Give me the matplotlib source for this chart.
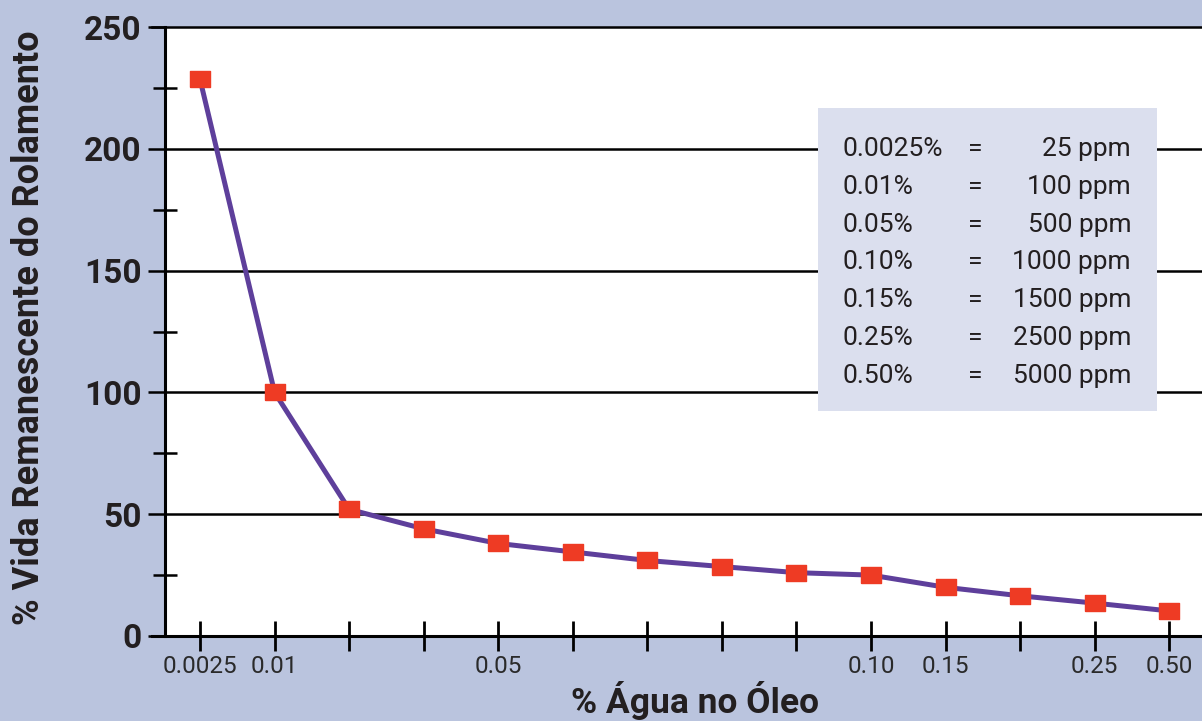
import matplotlib
matplotlib.use("Agg")
import matplotlib.pyplot as plt
from matplotlib.patches import Rectangle

x_labels = ["0.0025", "0.01", "", "", "0.05", "", "", "", "", "0.10", "0.15", "", "0.25", "0.50"]
values = [228.5, 100, 52, 44, 38, 34.5, 31, 28.5, 26, 25, 20, 16.5, 13.5, 10.3]
leg_pct = ["0.0025%", "0.01%", "0.05%", "0.10%", "0.15%", "0.25%", "0.50%"]
leg_ppm = ["25 ppm", "100 ppm", "500 ppm", "1000 ppm", "1500 ppm", "2500 ppm", "5000 ppm"]

BG = "#BAC4DE"
BOX = "#DBDFEE"
LINE = "#5E3F9B"
MARK = "#EE3B24"
TXT = "#231F20"
FAM = ["Roboto", "DejaVu Sans"]

fig = plt.figure(figsize=(12.02, 7.21), dpi=100, facecolor=BG)
W, H = 1202, 721
axw = 1 - 165 / W
ax = fig.add_axes([165 / W, 1 - 636 / H, axw, (636 - 27) / H])
ax.set_facecolor("white")

xs = list(range(len(values)))
rect = [(-1, -0.8), (1, -0.8), (1, 0.8), (-1, 0.8), (-1, -0.8)]
ax.plot(xs, values, color=LINE, lw=3.6, marker=rect, markersize=14.5,
        markerfacecolor=MARK, markeredgecolor=MARK, zorder=5, clip_on=False)

ax.set_xlim(-0.47, 13.44)
ax.set_ylim(0, 250)
for s in ["top", "right"]:
    ax.spines[s].set_visible(False)
ax.spines["left"].set_linewidth(2.2)
ax.spines["bottom"].set_linewidth(2.2)
ax.spines["bottom"].set_bounds(-0.64, 13.44)

for yv in [50, 100, 150, 200]:
    ax.axhline(yv, color="black", lw=1.8, zorder=1)
ax.plot([-0.64, 13.44], [250, 250], color="black", lw=1.8, clip_on=False, zorder=1)

ax.set_yticks([0, 50, 100, 150, 200, 250])
ax.set_yticks([25, 75, 125, 175, 225], minor=True)
ax.tick_params(axis="y", which="major", direction="out", length=12, width=1.8, pad=5,
               labelsize=24, labelcolor=TXT)
ax.tick_params(axis="y", which="minor", direction="inout", length=17, width=1.8)
for t in ax.get_yticklabels():
    t.set_fontfamily(FAM)
    t.set_fontweight("bold")

ax.set_xticks(xs)
ax.set_xticklabels(x_labels, family=FAM)
ax.tick_params(axis="x", direction="inout", length=22, width=2, pad=3,
               labelsize=17.5, labelcolor="#2A2A2A")

ax.set_xlabel("% Água no Óleo", fontsize=25.5, fontweight="bold", family=FAM,
              color=TXT, va="center")
ax.xaxis.set_label_coords((695 - 165) / (W * axw), -(700 - 636) / 609)
ax.set_ylabel("% Vida Remanescente do Rolamento", fontsize=26, fontweight="bold",
              family=FAM, color=TXT, va="center")
ax.yaxis.set_label_coords(-(165 - 29) / (W * axw), (636 - 328) / 609)

# legend box
fig.patches.append(Rectangle((818 / W, 1 - 411 / H), (1157 - 818) / W, (411 - 108) / H,
                             transform=fig.transFigure, facecolor=BOX, edgecolor="none",
                             zorder=10))
y0 = 149
dy = 37.8
for i, (p, q) in enumerate(zip(leg_pct, leg_ppm)):
    yy = 1 - (y0 + i * dy) / H
    kw = dict(fontsize=19, family=FAM, fontweight="normal", color=TXT, va="center", zorder=11)
    fig.text(843 / W, yy, p, ha="left", **kw)
    fig.text(975 / W, yy, "=", ha="center", **kw)
    fig.text(1131 / W, yy, q, ha="right", **kw)

fig.savefig("out.png", dpi=100, facecolor=BG)
